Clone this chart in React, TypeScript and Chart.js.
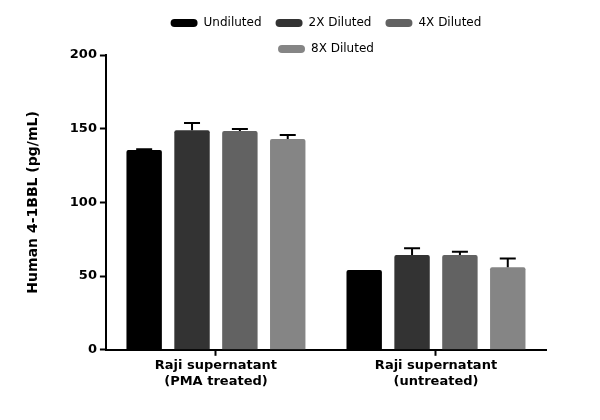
import React, { useEffect, useRef } from "react";
import { Chart, registerables } from "chart.js";

Chart.register(...registerables);

const categories: (string | string[])[] = [
  ["Raji supernatant", "(PMA treated)"],
  ["Raji supernatant", "(untreated)"],
];
const seriesNames = ["Undiluted", "2X Diluted", "4X Diluted", "8X Diluted"];
const seriesColors = ["#000000", "#333333", "#626262", "#858585"];
const undiluted = [135.6, 54.2];
const diluted2x = [149, 64.3];
const diluted4x = [148.5, 64.3];
const diluted8x = [143, 56];
const err2x = [4.8, 4.6];
const err4x = [1.3, 2.2];
const err8x = [2.8, 6];
const errUndiluted = [0.4, 0];
const yTicks = [0, 50, 100, 150, 200];

const seriesValues = [undiluted, diluted2x, diluted4x, diluted8x];
const seriesErrors = [errUndiluted, err2x, err4x, err8x];

const FONT = "'DejaVu Sans', sans-serif";

const errorBarPlugin = {
  id: "errorBars",
  afterDatasetsDraw(chart: any) {
    const ctx = chart.ctx;
    const yScale = chart.scales.y;
    chart.data.datasets.forEach((ds: any, di: number) => {
      const meta = chart.getDatasetMeta(di);
      const errs = seriesErrors[di];
      meta.data.forEach((bar: any, i: number) => {
        const e = errs[i];
        if (!e) return;
        const v = ds.data[i];
        const yTop = yScale.getPixelForValue(v + e);
        const yBar = yScale.getPixelForValue(v);
        ctx.save();
        ctx.strokeStyle = "#000";
        ctx.lineWidth = 2;
        ctx.beginPath();
        ctx.moveTo(bar.x, yBar);
        ctx.lineTo(bar.x, yTop);
        ctx.moveTo(bar.x - 8, yTop);
        ctx.lineTo(bar.x + 8, yTop);
        ctx.stroke();
        ctx.restore();
      });
    });
  },
};

export default function App() {
  const ref = useRef<HTMLCanvasElement>(null);
  useEffect(() => {
    if (!ref.current) return;
    const chart = new Chart(ref.current, {
      type: "bar",
      data: {
        labels: categories as any,
        datasets: seriesNames.map((name, i) => ({
          label: name,
          data: seriesValues[i],
          backgroundColor: seriesColors[i],
          borderRadius: 2,
          borderSkipped: "bottom",
          categoryPercentage: 0.87,
          barPercentage: 0.74,
        })),
      },
      options: {
        animation: false,
        responsive: false,
        layout: { padding: { left: 25, right: 54, top: 3, bottom: 29 } },
        plugins: {
          legend: {
            position: "top",
            fullSize: false,
            maxHeight: 52,
            labels: {
              boxWidth: 27,
              boxHeight: 8,
              useBorderRadius: true,
              borderRadius: 4,
              color: "#000",
              padding: 14,
              font: { family: FONT, size: 12 },
            },
          },
          tooltip: { enabled: false },
        },
        scales: {
          x: {
            border: { color: "#000", width: 2 },
            grid: {
              display: true,
              drawOnChartArea: false,
              drawTicks: true,
              tickLength: 6,
              tickWidth: 2,
              tickColor: "#000",
              offset: false,
            },
            ticks: {
              color: "#000",
              font: { family: FONT, size: 13, weight: "bold" },
              padding: 2,
            },
          },
          y: {
            min: 0,
            max: 200,
            afterBuildTicks: (axis: any) => {
              axis.ticks = yTicks.map((v) => ({ value: v }));
            },
            border: { color: "#000", width: 2 },
            grid: {
              display: true,
              drawOnChartArea: false,
              drawTicks: true,
              tickLength: 6,
              tickWidth: 2,
              tickColor: "#000",
            },
            ticks: {
              color: "#000",
              font: { family: FONT, size: 13, weight: "bold" },
              padding: 3,
            },
            title: {
              display: true,
              text: "Human 4-1BBL (pg/mL)",
              color: "#000",
              font: { family: FONT, size: 14, weight: "bold" },
              padding: { top: 0, bottom: 25 },
            },
          },
        },
      },
      plugins: [errorBarPlugin],
    });
    return () => chart.destroy();
  }, []);
  return (
    <div style={{ position: "absolute", left: 0, top: 0, width: 600, height: 420, background: "#fff" }}>
      <canvas ref={ref} width={600} height={420} style={{ width: 600, height: 420 }} />
    </div>
  );
}
